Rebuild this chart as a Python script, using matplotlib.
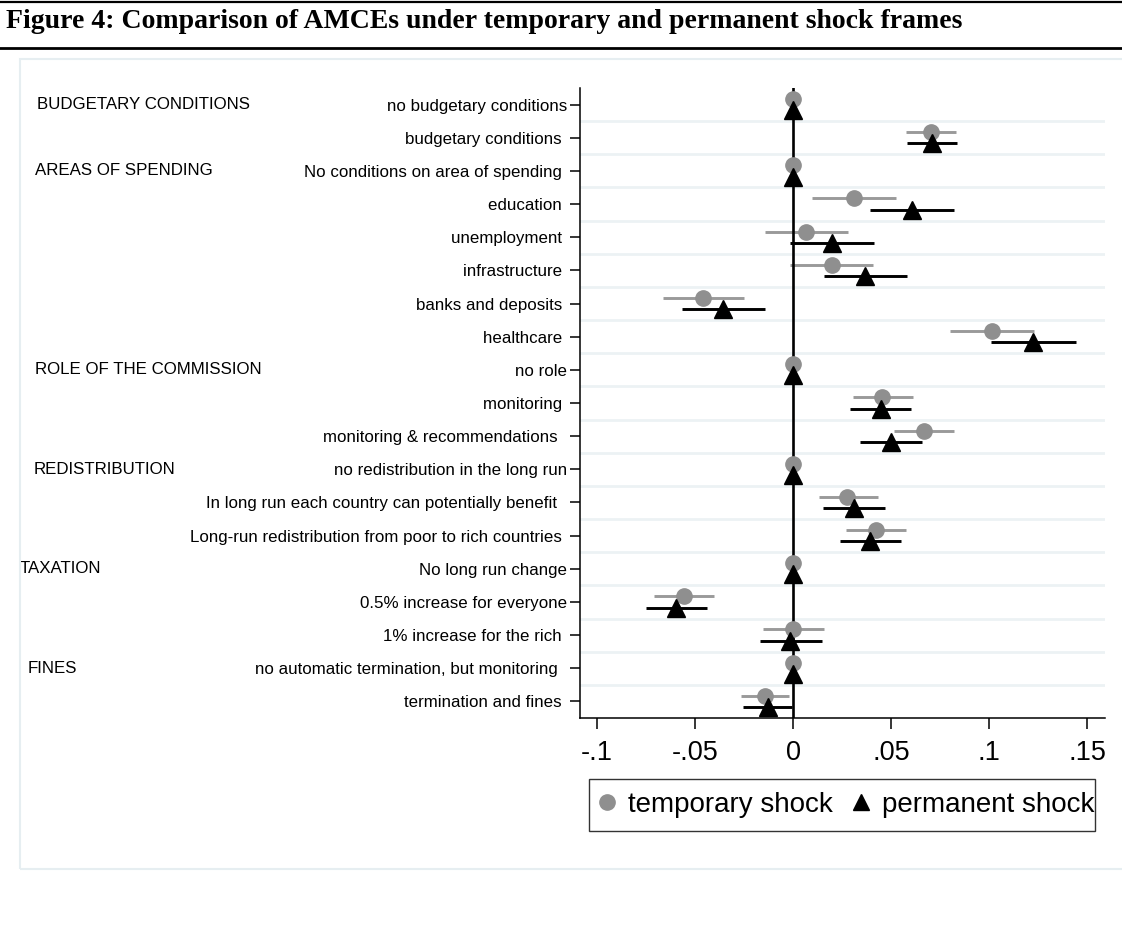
import numpy as np
import matplotlib
matplotlib.use("Agg")
import matplotlib.pyplot as plt
import matplotlib.transforms as mtransforms
from matplotlib.patches import Rectangle
from matplotlib.lines import Line2D

plt.rcParams['font.family'] = ['Liberation Sans', 'DejaVu Sans']

# attribute levels, top to bottom (trailing spaces as in the original labels)
levels = [
    "no budgetary conditions",
    "budgetary conditions ",
    "No conditions on area of spending ",
    "education ",
    "unemployment ",
    "infrastructure ",
    "banks and deposits ",
    "healthcare ",
    "no role",
    "monitoring ",
    "monitoring & recommendations  ",
    "no redistribution in the long run",
    "In long run each country can potentially benefit  ",
    "Long-run redistribution from poor to rich countries ",
    "No long run change",
    "0.5% increase for everyone",
    "1% increase for the rich ",
    "no automatic termination, but monitoring  ",
    "termination and fines ",
]
headings = ["BUDGETARY CONDITIONS", "AREAS OF SPENDING", "ROLE OF THE COMMISSION",
            "REDISTRIBUTION", "TAXATION", "FINES"]
heading_rows = [1, 3, 9, 12, 15, 18]

# temporary shock frame
temp_est = [0, 0.0704, 0, 0.0309, 0.0066, 0.0197, -0.0461, 0.1013, 0, 0.0455,
            0.0667, 0, 0.0278, 0.0421, 0, -0.0556, 0.0002, 0, -0.0143]
temp_lo = [0, 0.0576, 0, 0.0095, -0.0144, -0.0016, -0.0664, 0.0799, 0, 0.0304,
           0.0516, 0, 0.0132, 0.0269, 0, -0.0710, -0.0152, 0, -0.0265]
temp_hi = [0, 0.0834, 0, 0.0527, 0.0280, 0.0406, -0.0249, 0.1229, 0, 0.0613,
           0.0823, 0, 0.0433, 0.0574, 0, -0.0402, 0.0159, 0, -0.0018]

# permanent shock frame
perm_est = [0, 0.0711, 0, 0.0607, 0.0197, 0.0368, -0.0355, 0.1225, 0, 0.0448,
            0.0499, 0, 0.0309, 0.0393, 0, -0.0596, -0.0013, 0, -0.0130]
perm_lo = [0, 0.0580, 0, 0.0393, -0.0015, 0.0159, -0.0565, 0.1011, 0, 0.0293,
           0.0344, 0, 0.0155, 0.0238, 0, -0.0748, -0.0168, 0, -0.0254]
perm_hi = [0, 0.0839, 0, 0.0819, 0.0413, 0.0582, -0.0144, 0.1445, 0, 0.0602,
           0.0658, 0, 0.0470, 0.0550, 0, -0.0441, 0.0148, 0, -0.0004]

xticks = [-0.1, -0.05, 0, 0.05, 0.1, 0.15]
xticklabels = ["-.1", "-.05", "0", ".05", ".1", ".15"]

W, H = 1122, 938
fig = plt.figure(figsize=(W / 100, H / 100), dpi=100)
fig.patch.set_facecolor("white")

# axes placed in pixel terms
left, right, top, bottom = 580, 1105, 88, 718
ax = fig.add_axes([left / W, 1 - bottom / H, (right - left) / W, (bottom - top) / H])

rows = np.arange(1, len(levels) + 1)
off = 0.17
grey = "#8f8f8f"

ax.hlines(rows - off, temp_lo, temp_hi, color="#9a9a9a", lw=2.1, zorder=2)
ax.hlines(rows + off, perm_lo, perm_hi, color="black", lw=2.1, zorder=2)
ax.axvline(0, color="black", lw=1.9, zorder=3)
ax.plot(temp_est, rows - off, "o", color=grey, ms=11, mec=grey, zorder=4,
        label="temporary shock")
ax.plot(perm_est, rows + off, "^", color="black", ms=12.5, zorder=5,
        label="permanent shock")

ax.set_xlim(-0.1087, 0.1592)
ax.set_ylim(19.5, 0.5)

ax.set_yticks(rows)
ax.set_yticklabels(levels, fontsize=12.2)
ax.set_yticks(rows[:-1] + 0.5, minor=True)
ax.grid(which="minor", axis="y", color="#ecf2f4", lw=2.0, zorder=0)
ax.tick_params(axis="y", which="major", length=7.5, width=1.1, pad=2)
ax.tick_params(axis="y", which="minor", length=0)

ax.set_xticks(xticks)
ax.set_xticklabels(xticklabels, fontsize=19.5)
ax.tick_params(axis="x", length=8, width=1.1, pad=8)

for s in ["top", "right"]:
    ax.spines[s].set_visible(False)
for s in ["left", "bottom"]:
    ax.spines[s].set_linewidth(1.1)

# group headings on the far left
heading_x = [37, 35, 35, 34, 20, 28]
trans = mtransforms.blended_transform_factory(fig.transFigure, ax.transData)
for txt, r, xp in zip(headings, heading_rows, heading_x):
    ax.text(xp / W, r, txt, transform=trans, ha="left", va="center",
            fontsize=12.2, clip_on=False)

# legend
handles = [Line2D([], [], ls="none", marker="o", color=grey, ms=11),
           Line2D([], [], ls="none", marker="^", color="black", ms=12)]
fig.legend(handles, ["temporary shock", "permanent shock"], loc="center left",
           bbox_to_anchor=(596 / W, 1 - 805 / H), ncol=2, frameon=False,
           fontsize=20, borderpad=0, borderaxespad=0, handlelength=0.8,
           handletextpad=0.36, columnspacing=0.6)
fig.add_artist(Rectangle((589 / W, 1 - 831 / H), 506 / W, 52 / H, transform=fig.transFigure,
                         fill=False, ec="#333333", lw=1.0))

# outer panel border
fig.add_artist(Rectangle((19.5 / W, 1 - 869 / H), 1.2, 810 / H, transform=fig.transFigure,
                         fill=False, ec="#e6eef1", lw=1.5))

# title and rules
fig.text(6 / W, 1 - 28 / H, "Figure 4: Comparison of AMCEs under temporary and permanent shock frames",
         family="Liberation Serif", weight="bold", fontsize=20, ha="left", va="baseline")
fig.add_artist(Line2D([0, 1], [1 - 2.5 / H, 1 - 2.5 / H], transform=fig.transFigure,
                      color="black", lw=1.6))
fig.add_artist(Line2D([0, 1], [1 - 48 / H, 1 - 48 / H], transform=fig.transFigure,
                      color="black", lw=2.0))

fig.savefig("out.png", dpi=100)
